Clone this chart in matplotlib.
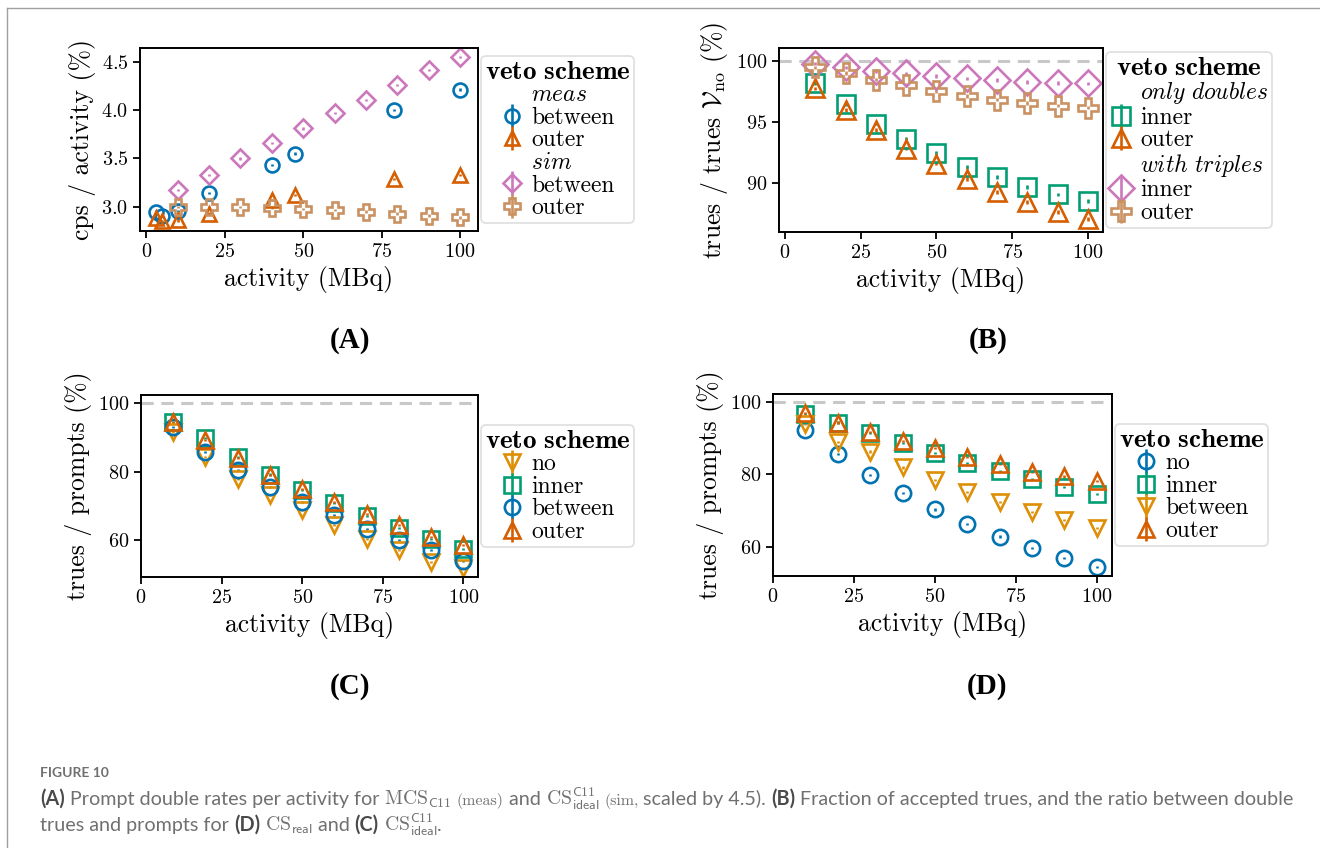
import matplotlib
matplotlib.use('Agg')
import matplotlib.pyplot as plt
from matplotlib.lines import Line2D

plt.rcParams.update({
    'font.family': 'serif',
    'font.serif': ['cmr10'],
    'mathtext.fontset': 'cm',
    'axes.formatter.use_mathtext': True,
    'axes.unicode_minus': False,
})

# ---- data ----
x_meas = [3, 5, 10, 20, 40, 47.5, 79, 100]
a_meas_between = [2.95, 2.91, 2.96, 3.14, 3.43, 3.55, 4.00, 4.21]
a_meas_outer = [2.88, 2.85, 2.86, 2.93, 3.07, 3.12, 3.29, 3.33]
activity = [10, 20, 30, 40, 50, 60, 70, 80, 90, 100]
a_sim_between = [3.17, 3.33, 3.50, 3.66, 3.81, 3.97, 4.10, 4.26, 4.41, 4.55]
a_sim_outer = [3.00, 3.00, 3.00, 2.99, 2.98, 2.97, 2.95, 2.93, 2.91, 2.89]

b_doubles_inner = [98.2, 96.45, 94.87, 93.64, 92.46, 91.31, 90.49, 89.67, 89.07, 88.52]
b_doubles_outer = [97.74, 95.96, 94.32, 92.82, 91.59, 90.36, 89.26, 88.44, 87.62, 87.08]
b_triples_inner = [99.78, 99.46, 99.18, 98.97, 98.75, 98.56, 98.42, 98.28, 98.2, 98.15]
b_triples_outer = [99.46, 99.02, 98.47, 98.0, 97.54, 97.13, 96.83, 96.56, 96.34, 96.17]

c_no = [91.5, 84.4, 78.0, 73.2, 68.8, 64.4, 60.5, 57.1, 53.8, 51.9]
c_inner = [94.6, 89.8, 84.2, 79.2, 74.8, 70.9, 67.0, 63.6, 60.5, 57.6]
c_between = [93.2, 85.8, 80.5, 75.6, 71.2, 67.3, 63.4, 60.0, 57.1, 54.1]
c_outer = [94.6, 89.3, 83.9, 79.0, 75.1, 71.2, 67.8, 64.4, 61.0, 58.5]

d_no = [92.3, 85.6, 79.8, 74.8, 70.3, 66.3, 62.8, 59.7, 56.8, 54.3]
d_inner = [96.6, 94.3, 91.5, 88.6, 86.0, 83.2, 81.0, 78.6, 76.6, 74.6]
d_between = [94.0, 89.0, 86.3, 81.9, 78.4, 75.2, 72.4, 69.7, 67.4, 65.1]
d_outer = [96.9, 94.3, 91.8, 89.3, 87.2, 84.7, 82.9, 80.7, 79.4, 78.2]

err_a = 0.012
err_b = 0.15
err_cd = 0.3

BLUE = '#0173B2'
RED = '#D55E00'
PINK = '#CC78BC'
BROWN = '#CA9161'
GREEN = '#029E73'
ORANGE = '#DE8F05'

W, H = 1320, 848
fig = plt.figure(figsize=(W / 100, H / 100), dpi=100)


def px_axes(left, top, right, bottom):
    return fig.add_axes([left / W, 1 - bottom / H, (right - left) / W, (bottom - top) / H])


def draw(ax, x, y, err, color, marker, label, ms):
    ax.errorbar(x, y, yerr=err, fmt=marker, color=color, mfc='none', mec=color,
                ms=ms, mew=1.9, elinewidth=1.9, capsize=0, label=label)


def header(text):
    return Line2D([], [], linestyle='none', marker='none'), text


def style(ax, ylabel):
    for sp in ax.spines.values():
        sp.set_linewidth(1.4)
    ax.tick_params(direction='out', length=5, width=1.3, labelsize=14.5)
    ax.set_xlabel('activity (MBq)', fontsize=18.5)
    ax.set_ylabel(ylabel, fontsize=18.5)
    ax.set_xticks([0, 25, 50, 75, 100])


def legend(ax, handles, labels):
    leg = ax.legend(handles, labels, title=r'$\mathbf{veto\ scheme}$', title_fontsize=19.5,
                    loc='center left', bbox_to_anchor=(1.0, 0.5), borderaxespad=0.13,
                    handlelength=1.0, handletextpad=0.3, labelspacing=0.02, fontsize=17,
                    borderpad=0.15, edgecolor='0.85', framealpha=0.8)
    leg.get_frame().set_linewidth(1.3)


# (A)
axA = px_axes(140, 48, 478, 231)
draw(axA, x_meas, a_meas_between, err_a, BLUE, 'o', 'between', 10)
draw(axA, x_meas, a_meas_outer, err_a, RED, '^', 'outer', 10)
draw(axA, activity, a_sim_between, err_a, PINK, 'D', 'between', 9.5)
draw(axA, activity, a_sim_outer, err_a, BROWN, 'P', 'outer', 11)
style(axA, 'cps / activity (%)')
axA.set_xlim(-2, 105.7)
axA.set_ylim(2.75, 4.64)
axA.set_yticks([3.0, 3.5, 4.0, 4.5])
h, l = axA.get_legend_handles_labels()
hm, lm = header(r'$\mathit{meas}$')
hs, ls = header(r'$\mathit{sim}$')
legend(axA, [hm, h[0], h[1], hs, h[2], h[3]], [lm, l[0], l[1], ls, l[2], l[3]])

# (B)
axB = px_axes(779, 48, 1103, 232)
axB.axhline(100, color='#c8c8c8', lw=2.2, ls=(0, (4, 2.5)), zorder=0)
draw(axB, activity, b_doubles_inner, err_b, GREEN, 's', 'inner', 13.5)
draw(axB, activity, b_doubles_outer, err_b, RED, '^', 'outer', 13.5)
draw(axB, activity, b_triples_inner, err_b, PINK, 'D', 'inner', 13.5)
draw(axB, activity, b_triples_outer, err_b, BROWN, 'P', 'outer', 14)
style(axB, r'trues / trues $\mathcal{V}_{\mathrm{no}}$ (%)')
axB.set_xlim(-2, 105)
axB.set_ylim(86, 101.05)
axB.set_yticks([90, 95, 100])
h, l = axB.get_legend_handles_labels()
hd, ld = header(r'$\mathit{only\ doubles}$')
ht, lt = header(r'$\mathit{with\ triples}$')
legend(axB, [hd, h[0], h[1], ht, h[2], h[3]], [ld, l[0], l[1], lt, l[2], l[3]])

# (C)
axC = px_axes(141, 395, 478, 577)
axC.axhline(100, color='#c8c8c8', lw=2.2, ls=(0, (4, 2.5)), zorder=0)
draw(axC, activity, c_no, err_cd, ORANGE, 'v', 'no', 11)
draw(axC, activity, c_inner, err_cd, GREEN, 's', 'inner', 11)
draw(axC, activity, c_between, err_cd, BLUE, 'o', 'between', 11)
draw(axC, activity, c_outer, err_cd, RED, '^', 'outer', 11)
style(axC, 'trues / prompts (%)')
axC.set_xlim(0, 104.5)
axC.set_ylim(49.3, 102.4)
axC.set_yticks([60, 80, 100])
legend(axC, *axC.get_legend_handles_labels())

# (D)
axD = px_axes(773, 394, 1112, 576)
axD.axhline(100, color='#c8c8c8', lw=2.2, ls=(0, (4, 2.5)), zorder=0)
draw(axD, activity, d_no, err_cd, BLUE, 'o', 'no', 11)
draw(axD, activity, d_inner, err_cd, GREEN, 's', 'inner', 11)
draw(axD, activity, d_between, err_cd, ORANGE, 'v', 'between', 11)
draw(axD, activity, d_outer, err_cd, RED, '^', 'outer', 11)
style(axD, 'trues / prompts (%)')
axD.set_xlim(0, 104.7)
axD.set_ylim(51.9, 102.2)
axD.set_yticks([60, 80, 100])
legend(axD, *axD.get_legend_handles_labels())

# panel letters
for txt, xp, yp in [('(A)', 350, 340), ('(B)', 988, 340), ('(C)', 350, 686), ('(D)', 987, 686)]:
    fig.text(xp / W, 1 - yp / H, txt, ha='center', va='center',
             family='Liberation Serif', weight='bold', size=21)

# page frame
fig.add_artist(Line2D([7 / W, 7 / W], [0, 1 - 8 / H], transform=fig.transFigure, color='#a0a0a0', lw=1))
fig.add_artist(Line2D([7 / W, 1], [1 - 8 / H, 1 - 8 / H], transform=fig.transFigure, color='#a0a0a0', lw=1))

# caption
GRAY = '#707070'
DARK = '#4a4a4a'
sans = dict(family='Lato', size=14.2, color=GRAY)
bold = dict(family='Lato', size=14.2, color=DARK, weight='bold')
small = dict(family='serif', size=11.5, color=GRAY)

renderer = fig.canvas.get_renderer()


def segments(x_px, y_px, parts):
    x = x_px
    for s, kw in parts:
        t = fig.text(x / W, 1 - y_px / H, s, va='baseline', ha='left', **kw)
        x += t.get_window_extent(renderer).width


fig.text(40 / W, 1 - 777 / H, 'FIGURE 10', va='baseline', ha='left',
         family='Lato', size=10, color=GRAY, weight='bold')

segments(40, 805, [
    ('(A)', bold),
    (' Prompt double rates per activity for ', sans),
    (r'$\mathrm{MCS}_{\mathsf{C11}}$', sans),
    (' ', sans),
    ('(meas)', small),
    (' and ', sans),
    (r'$\mathrm{CS}^{\mathsf{C11}}_{\mathsf{ideal}}$', sans),
    (' ', sans),
    ('(sim,', small),
    (' scaled by 4.5). ', sans),
    ('(B)', bold),
    (' Fraction of accepted trues, and the ratio between double', sans),
])
segments(40, 831, [
    ('trues and prompts for ', sans),
    ('(D)', bold),
    (' ', sans),
    (r'$\mathrm{CS}_{\mathsf{real}}$', sans),
    (' and ', sans),
    ('(C)', bold),
    (' ', sans),
    (r'$\mathrm{CS}^{\mathsf{C11}}_{\mathsf{ideal}}$', sans),
    ('.', sans),
])

fig.savefig('out.png', dpi=100)
